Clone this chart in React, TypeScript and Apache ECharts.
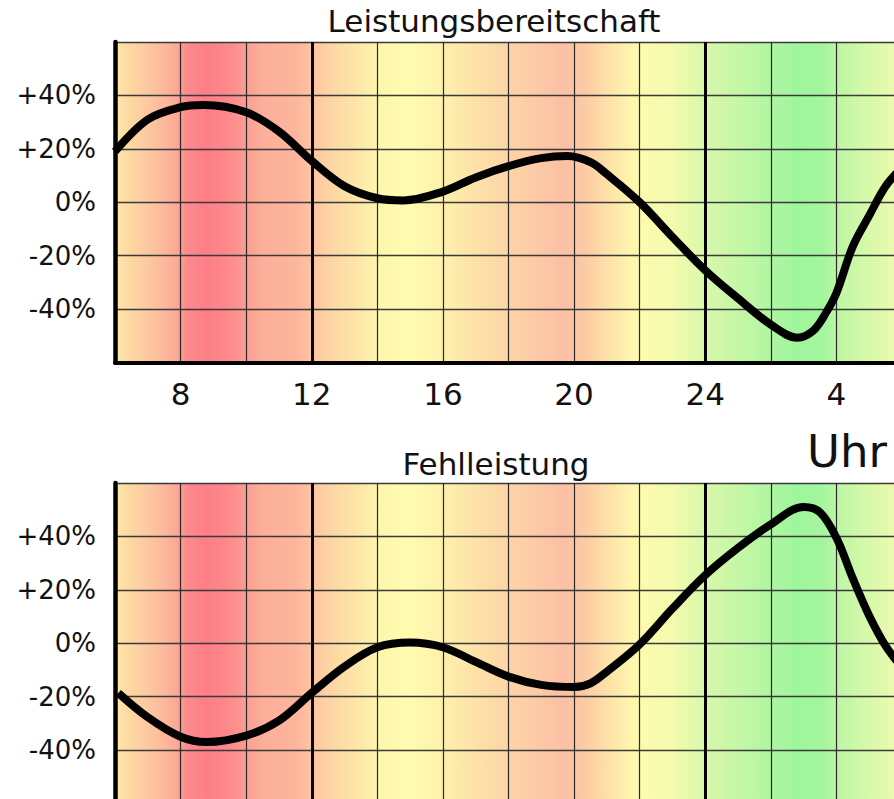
import React, { useEffect, useRef } from "react";
import * as echarts from "echarts";

// Hours (continuous; 24+ = next day)
const hoursTop = [6, 7, 8, 8.7, 10, 11, 12, 13, 14, 14.8, 16, 17, 18, 19, 19.8, 20.5, 21, 22, 23, 24, 25, 26, 26.8, 27.3, 27.7, 28, 28.5, 29, 29.5, 30];
const valuesTop = [19, 31, 35.6, 36.4, 33.7, 26.5, 15.5, 6, 1.5, 0.7, 4, 9.3, 13.5, 16.5, 17.3, 15, 10.5, 0, -13, -25.5, -36, -45.8, -50.7, -48, -41, -34, -16.5, -5, 6, 13];

const hoursBottom = [6.1, 7, 8, 8.8, 10, 11, 12, 13, 14, 15, 16, 17, 18, 19, 20, 20.5, 21, 22, 23, 24, 25, 26, 27, 27.5, 28, 28.5, 29, 29.5, 30];
const valuesBottom = [-18.6, -27.7, -35, -37, -34.6, -29, -18.6, -8.7, -1.5, 0.3, -1.5, -7, -12.5, -15.6, -16.4, -15, -10.6, -0.4, 13, 25.5, 35.7, 44.5, 51, 49, 39.5, 24.3, 10.3, -1, -9];

const bandHours = [6.0, 6.4, 7.0, 7.5, 7.9, 8.2, 8.8, 9.5, 10.0, 10.5, 11.5, 12.0, 12.6, 13.4, 14.0, 15.0, 16.0, 17.0, 18.0, 19.0, 19.7, 20.3, 21.0, 21.6, 22.0, 23.0, 24.0, 25.0, 26.0, 26.8, 27.6, 28.0, 29.0, 30.0];
const bandColors = ["#fde9aa", "#fdd9a2", "#fdc8a0", "#fcb89b", "#fca897", "#fd8a8c", "#fd7e88", "#fd8a8c", "#fc9e93", "#fcaf9a", "#fdb59c", "#fdc4a0", "#fdd6a4", "#fee6a8", "#fef6ac", "#fffcb0", "#fef0ac", "#fde2a8", "#fdd4a6", "#fcc8a6", "#fcbfa4", "#fccaa4", "#fde0a8", "#fef2ac", "#fefaae", "#f3fbae", "#d9f8aa", "#c6f7a6", "#b0f6a2", "#9ef69c", "#a4f69e", "#bcf6a4", "#d8f9aa", "#f0fab0"];

const yTicks = [-60, -40, -20, 0, 20, 40, 60];
const titles = ["Leistungsbereitschaft", "Fehlleistung"];
const unitLabel = "Uhr";

const FONT = "DejaVu Sans";
const X_MIN = 6;
const X_MAX = 30;

function makeGradient() {
  return new echarts.graphic.LinearGradient(
    0, 0, 1, 0,
    bandHours.map((h, i) => ({ offset: (h - X_MIN) / (X_MAX - X_MIN), color: bandColors[i] }))
  );
}

export default function App() {
  const ref = useRef<HTMLDivElement>(null);
  useEffect(() => {
    if (!ref.current) return;
    const chart = echarts.init(ref.current, null, { renderer: "svg" });
    const grids = [
      { left: 115, top: 42, height: 320.5, right: 8 },
      { left: 115, top: 483, height: 320.5, right: 8 },
    ].map((g) => ({ ...g, show: true, borderWidth: 0, backgroundColor: makeGradient() }));

    const xAxes = [0, 1].map((i) => ({
      gridIndex: i,
      type: "value",
      min: X_MIN,
      max: X_MAX,
      interval: 2,
      axisLine: { show: true, onZero: false, lineStyle: { color: "#000", width: 4 } },
      axisTick: { show: false },
      axisLabel: {
        show: i === 0,
        formatter: (v: number) => (v % 4 === 0 ? String(v > 24 ? v - 24 : v) : ""),
        fontFamily: FONT,
        fontSize: 31,
        color: "#111",
        margin: 31,
        verticalAlign: "middle",
      },
      splitLine: { show: true, lineStyle: { color: "#2a2a2a", width: 1.2 } },
    }));

    const yAxes = [0, 1].map((i) => ({
      gridIndex: i,
      type: "value",
      min: yTicks[0],
      max: yTicks[yTicks.length - 1],
      interval: 20,
      axisLine: { show: true, onZero: false, lineStyle: { color: "#000", width: 4.5 } },
      axisTick: { show: false },
      axisLabel: {
        formatter: (v: number) => (Math.abs(v) === 60 ? "" : v > 0 ? "+" + v + "%" : v + "%"),
        fontFamily: FONT,
        fontSize: 26,
        color: "#111",
        margin: 19,
        align: "right",
      },
      splitLine: { show: true, lineStyle: { color: "#3a3a3a", width: 1.3 } },
    }));

    const curves = [
      { h: hoursTop, v: valuesTop },
      { h: hoursBottom, v: valuesBottom },
    ];

    const series: any[] = [];
    curves.forEach((c, i) => {
      series.push({
        type: "line",
        xAxisIndex: i,
        yAxisIndex: i,
        data: c.h.map((h, k) => [h, c.v[k]]),
        smooth: 0.35,
        symbol: "none",
        silent: true,
        lineStyle: { color: "#000", width: 0, opacity: 0 },
        z: 1,
        markLine: {
          silent: true,
          z: 1,
          symbol: ["none", "none"],
          label: { show: false },
          lineStyle: { color: "#000", width: 3, type: "solid" },
          data: [{ xAxis: 12 }, { xAxis: 24 }],
        },
      });
      series.push({
        type: "line",
        xAxisIndex: i,
        yAxisIndex: i,
        data: c.h.map((h, k) => [h, c.v[k]]),
        smooth: 0.35,
        symbol: "none",
        silent: true,
        lineStyle: { color: "#000", width: 8 },
        z: 6,
      });
    });

    chart.setOption({
      animation: false,
      grid: grids,
      xAxis: xAxes,
      yAxis: yAxes,
      series,
      graphic: [
        { type: "text", x: 494, y: 21, style: { text: titles[0], fontFamily: FONT, fontSize: 31, fill: "#111", align: "center", verticalAlign: "middle" } },
        { type: "text", x: 496, y: 464, style: { text: titles[1], fontFamily: FONT, fontSize: 31, fill: "#111", align: "center", verticalAlign: "middle" } },
        { type: "text", x: 847, y: 451, style: { text: unitLabel, fontFamily: FONT, fontSize: 45, fill: "#111", align: "center", verticalAlign: "middle" } },
      ],
    });
    return () => chart.dispose();
  }, []);
  return (
    <div style={{ position: "fixed", left: 0, top: 0, width: 894, height: 799, overflow: "hidden", background: "#fff" }}>
      <div ref={ref} style={{ width: 910, height: 812 }} />
    </div>
  );
}
